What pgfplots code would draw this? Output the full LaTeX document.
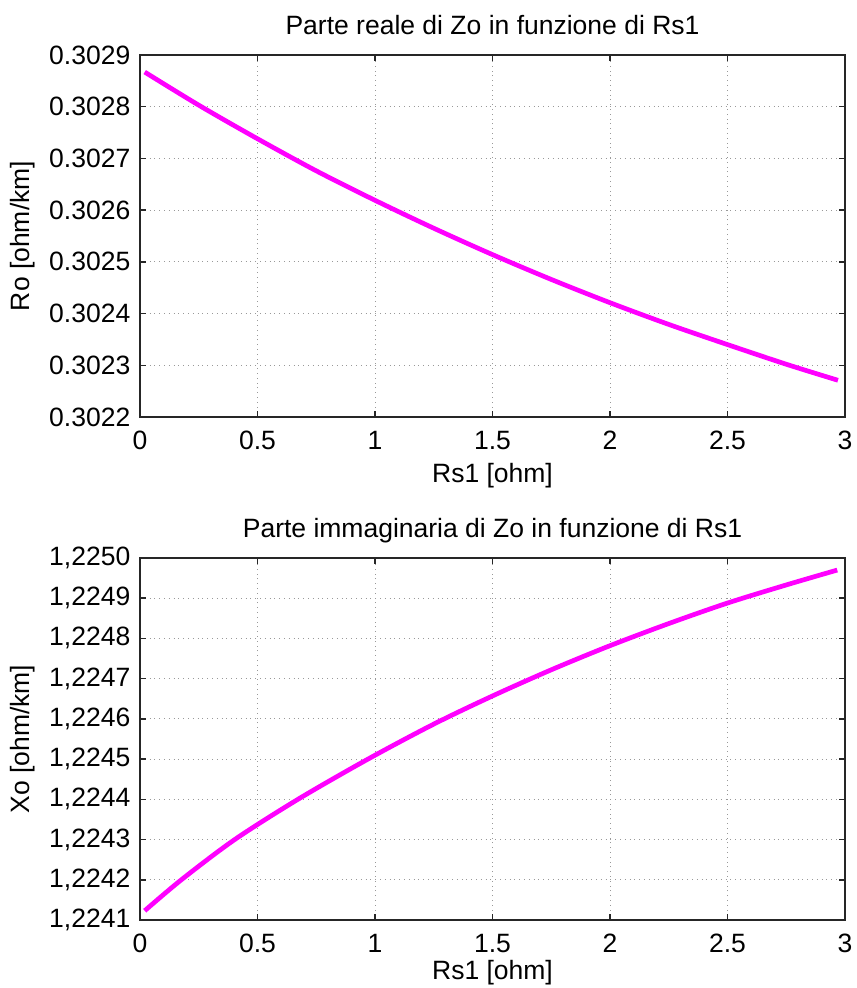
\documentclass[border=0pt]{standalone}
\usepackage{pgfplots}
\pgfplotsset{compat=1.18}
\usepackage{fontspec}
\setmainfont{Liberation Sans}
\definecolor{mag}{RGB}{255,0,255}
\pgfplotsset{
  mlab/.style={
    scale only axis,
    width=352.5pt, height=181pt,
    xmin=0, xmax=3,
    xtick={0,0.5,1,1.5,2,2.5,3},
    tick align=inside,
    tick pos=both,
    major tick length=2.8pt,
    grid=major,
    grid style={dotted, line width=0.45pt, color=black!40},
    axis line style={line width=0.75pt, color=black!85},
    every tick/.style={line width=0.75pt, color=black!85},
    /pgf/number format/assume math mode=true,
    xticklabel style={anchor=base, yshift=-16.2pt, inner sep=0pt},
    yticklabel style={anchor=east, xshift=-4.65pt, inner sep=0pt},
    every axis y label/.style={at={(axis description cs:-0.166,0.5)}, rotate=90, anchor=center},
    every axis title/.style={at={(axis description cs:0.5,1.0572)}, anchor=base},
    xlabel={Rs1 [ohm]},
  }
}
\begin{document}
\begin{tikzpicture}[font=\fontsize{13.25}{16}\selectfont]
\path[use as bounding box] (0,0) rectangle (428pt,494pt);
\begin{axis}[mlab,
  at={(70pt,285.5pt)}, anchor=south west,
  ymin=0.3022, ymax=0.3029,
  ytick={0.3022,0.3023,0.3024,0.3025,0.3026,0.3027,0.3028,0.3029},
  yticklabel style={/pgf/number format/.cd, fixed, fixed zerofill, precision=4},
  ylabel={Ro [ohm/km]},
  title={Parte reale di Zo in funzione di Rs1},
  every axis x label/.style={at={(axis description cs:0.5,-0.1796)}, anchor=base},
]
\addplot[mag, line width=2.35pt, smooth] coordinates {
(0.02,0.302867) (0.25,0.302803) (0.5,0.302738) (0.75,0.302676)
(1,0.302619) (1.25,0.302565) (1.5,0.302514) (1.75,0.302466)
(2,0.302421) (2.25,0.302379) (2.5,0.302340) (2.75,0.302302)
(2.97,0.302271)
};
\end{axis}
\begin{axis}[mlab,
  at={(70pt,34pt)}, anchor=south west,
  ymin=1.2241, ymax=1.2250,
  ytick={1.2241,1.2242,1.2243,1.2244,1.2245,1.2246,1.2247,1.2248,1.2249,1.2250},
  yticklabel style={/pgf/number format/.cd, fixed, fixed zerofill, precision=4, use comma, 1000 sep={}},
  ylabel={Xo [ohm/km]},
  title={Parte immaginaria di Zo in funzione di Rs1},
  every axis x label/.style={at={(axis description cs:0.5,-0.1657)}, anchor=base},
]
\addplot[mag, line width=2.35pt, smooth] coordinates {
(0.02,1.224123) (0.176,1.224200) (0.403,1.224300) (0.672,1.224400)
(0.97,1.224500) (1.25,1.224587) (1.5,1.224657) (1.75,1.224722)
(2,1.224782) (2.25,1.224837) (2.5,1.224888) (2.75,1.224933)
(2.967,1.224970)
};
\end{axis}
\end{tikzpicture}
\end{document}
